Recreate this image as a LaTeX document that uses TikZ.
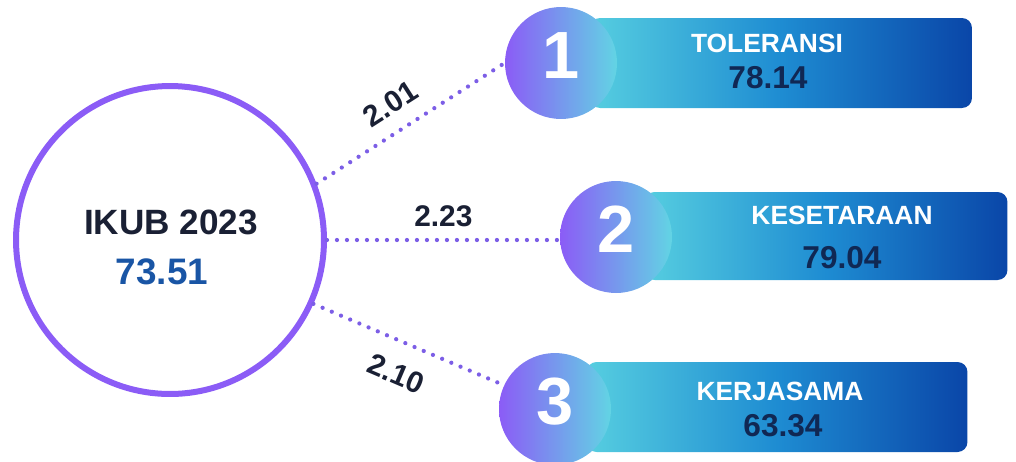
\documentclass[tikz,border=0pt]{standalone}
\usepackage{fontspec}
\setmainfont{Liberation Sans}
\usepackage{tikz}

\definecolor{ringpurple}{RGB}{139,92,246}
\definecolor{dotpurple}{RGB}{124,94,230}
\definecolor{titlenavy}{RGB}{26,32,52}
\definecolor{ikubblue}{RGB}{25,85,165}
\definecolor{valnavy}{RGB}{16,40,84}
\definecolor{boxcyan}{RGB}{86,206,224}
\definecolor{boxmid}{RGB}{30,140,210}
\definecolor{boxdark}{RGB}{10,70,168}
\definecolor{disccyan}{RGB}{98,212,228}

\tikzset{
  ikubring/.style={circle, draw=ringpurple, line width=0.12cm, minimum size=6.16cm, inner sep=0pt},
  scorebox/.style={rectangle, rounded corners=0.2cm, left color=boxcyan, right color=boxdark, middle color=boxmid, inner sep=0pt},
  numdisc/.style={circle, minimum size=2.24cm, inner sep=0pt, left color=ringpurple, right color=disccyan,
    text=white, font=\fontsize{38}{38}\selectfont\bfseries, text depth=9pt},
  boxlabel/.style={text=white, font=\fontsize{15}{15}\selectfont\bfseries},
  boxvalue/.style={text=valnavy, font=\fontsize{18}{18}\selectfont\bfseries},
  link/.style={dotpurple, line width=0.085cm, line cap=round, dash pattern=on 0pt off 0.2cm},
  linklabel/.style={sloped, text=titlenavy, inner sep=2pt, font=\fontsize{17}{17}\selectfont\bfseries}
}

\begin{document}
\begin{tikzpicture}[x=0.02cm, y=-0.02cm]
  \useasboundingbox (0,0) rectangle (1016,461);

  % central index
  \node[ikubring] (ikub) at (170,240) {};
  \node[text=titlenavy, font=\fontsize{20}{20}\selectfont\bfseries] (ikubtitle) at (171,222) {IKUB 2023};
  \node[text=ikubblue, font=\fontsize{21}{21}\selectfont\bfseries] (ikubvalue) at (162,272) {73.51};

  % dimension boxes
  \node[scorebox, minimum width=7.64cm, minimum height=1.8cm] (b1) at (781,63) {};
  \node[scorebox, minimum width=7.26cm, minimum height=1.76cm] (b2) at (826,236) {};
  \node[scorebox, minimum width=7.62cm, minimum height=1.8cm] (b3) at (777,407) {};

  \node[numdisc] (n1) at (561,63) {1};
  \node[numdisc] (n2) at (616,237) {2};
  \node[numdisc] (n3) at (555,409) {3};

  \node[boxlabel] (l1) at (767,43) {TOLERANSI};
  \node[boxvalue] (v1) at (768,78) {78.14};
  \node[boxlabel] (l2) at (842,215) {KESETARAAN};
  \node[boxvalue] (v2) at (842,258) {79.04};
  \node[boxlabel] (l3) at (780,391) {KERJASAMA};
  \node[boxvalue] (v3) at (783,426) {63.34};

  % dotted links
  \draw[link] (ikub.21) -- node[linklabel, pos=0.47, above=6.4pt] {2.01} (n1.west);
  \draw[link] (ikub.east) -- node[linklabel, above=4.4pt] {2.23} (ikub.east -| n2.west);
  \draw[link] (ikub.-24) -- node[linklabel, pos=0.5, below=8.8pt] {2.10} (n3.155);
\end{tikzpicture}
\end{document}
